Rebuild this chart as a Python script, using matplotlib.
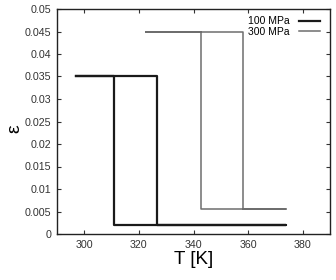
import matplotlib
matplotlib.use("Agg")
import matplotlib.pyplot as plt

plt.rcParams['font.family'] = ['Liberation Sans', 'DejaVu Sans']

# hysteresis loops, temperature [K] vs strain
t_100 = [297, 326.7, 326.7, 374, 311, 311, 297]
eps_100 = [0.035, 0.035, 0.002, 0.002, 0.002, 0.035, 0.035]
t_300 = [322.6, 358, 358, 374, 342.6, 342.6, 322.6]
eps_300 = [0.045, 0.045, 0.0056, 0.0056, 0.0056, 0.045, 0.045]

xticks = [300, 320, 340, 360, 380]
yticks = [0, 0.005, 0.01, 0.015, 0.02, 0.025, 0.03, 0.035, 0.04, 0.045, 0.05]
yticklabels = ['0', '0.005', '0.01', '0.015', '0.02', '0.025', '0.03',
               '0.035', '0.04', '0.045', '0.05']

fig = plt.figure(figsize=(3.36, 2.80), dpi=100)
ax = fig.add_axes([57/336, 1 - 234/280, (330 - 57)/336, (234 - 9)/280])

ax.plot(t_100, eps_100, color='#1a1a1a', lw=1.6, label='100 MPa')
ax.plot(t_300, eps_300, color='#6e6e6e', lw=1.1, label='300 MPa')

ax.set_xlim(290, 390)
ax.set_ylim(0, 0.05)
ax.set_xticks(xticks)
ax.set_yticks(yticks)
ax.set_yticklabels(yticklabels)
ax.tick_params(direction='in', top=True, right=True, length=3, width=0.8,
               labelsize=7.7, colors='#333333', pad=4)
for s in ax.spines.values():
    s.set_linewidth(1.0)
    s.set_color('#222222')

ax.set_xlabel('T [K]', fontsize=13.5, labelpad=1)
ax.set_ylabel('ε', fontsize=14)
ax.yaxis.set_label_coords(-0.125, 0.47)

leg = ax.legend(loc='upper right', fontsize=7.5, frameon=False,
                markerfirst=False, handlelength=2.0, handletextpad=0.9,
                labelspacing=0.05, borderaxespad=0.3,
                bbox_to_anchor=(0.99, 1.0))

fig.savefig('out.png', dpi=100)
